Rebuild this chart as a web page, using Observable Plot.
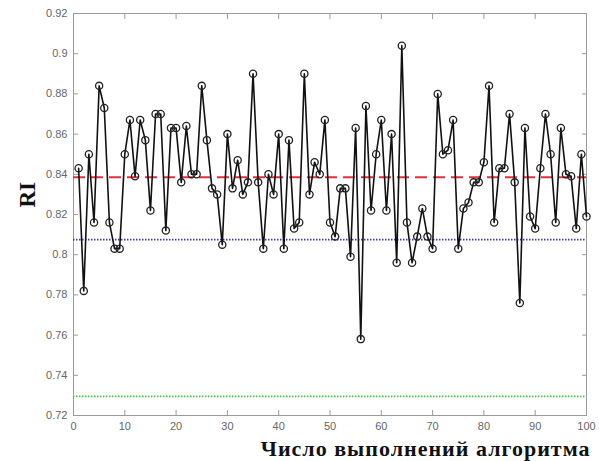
<!DOCTYPE html>
<html>
<head>
<meta charset="utf-8">
<script src="https://cdn.jsdelivr.net/npm/d3@7"></script>
<script src="https://cdn.jsdelivr.net/npm/@observablehq/plot@0.6"></script>
<style>
  html, body { margin: 0; padding: 0; background: #fff; }
  #chart svg { display: block; }
</style>
</head>
<body>
<div id="chart"></div>
<script>
// RI values for runs 1..100
const riValues = [
  0.843, 0.782, 0.850, 0.816, 0.884, 0.873, 0.816, 0.803, 0.803, 0.850,
  0.867, 0.839, 0.867, 0.857, 0.822, 0.870, 0.870, 0.812, 0.863, 0.863,
  0.836, 0.864, 0.840, 0.840, 0.884, 0.857, 0.833, 0.830, 0.805, 0.860,
  0.833, 0.847, 0.830, 0.836, 0.890, 0.836, 0.803, 0.840, 0.830, 0.860,
  0.803, 0.857, 0.813, 0.816, 0.890, 0.830, 0.846, 0.840, 0.867, 0.816,
  0.809, 0.833, 0.833, 0.799, 0.863, 0.758, 0.874, 0.822, 0.850, 0.867,
  0.822, 0.860, 0.796, 0.904, 0.816, 0.796, 0.809, 0.823, 0.809, 0.803,
  0.880, 0.850, 0.852, 0.867, 0.803, 0.823, 0.826, 0.836, 0.836, 0.846,
  0.884, 0.816, 0.843, 0.843, 0.870, 0.836, 0.776, 0.863, 0.819, 0.813,
  0.843, 0.870, 0.850, 0.816, 0.863, 0.840, 0.839, 0.813, 0.850, 0.819
];
// horizontal reference levels
const redLevel = [0.8385];
const blueLevel = [0.8075];
const greenLevel = [0.7295];

const xTicks = [0, 10, 20, 30, 40, 50, 60, 70, 80, 90, 100];
const yTicks = [0.72, 0.74, 0.76, 0.78, 0.80, 0.82, 0.84, 0.86, 0.88, 0.90, 0.92];
const xLabel = "Число выполнений алгоритма";
const yLabel = "RI";

const data = riValues.map((v, i) => ({run: i + 1, ri: v}));
const fmtY = d => String(+d.toFixed(2));
const tickFont = "Liberation Sans, Arial, sans-serif";
const serif = "Liberation Serif, Times New Roman, serif";

const chart = Plot.plot({
  width: 599,
  height: 461,
  marginLeft: 73,
  marginRight: 13,
  marginTop: 13,
  marginBottom: 46,
  style: {fontFamily: tickFont, fontSize: "11px", background: "#fff"},
  x: {domain: [0, 100], ticks: xTicks},
  y: {domain: [0.72, 0.92], ticks: yTicks},
  marks: [
    Plot.frame({stroke: "#9a9a9a", strokeWidth: 1}),
    Plot.axisY({ticks: yTicks, tickFormat: fmtY, tickSize: -5, tickPadding: 11, stroke: "#9a9a9a", fill: "#666", label: null}),
    Plot.axisY({ticks: yTicks, anchor: "right", tickFormat: () => "", tickSize: -5, stroke: "#9a9a9a", label: null}),
    Plot.axisX({ticks: xTicks, tickSize: -5, tickPadding: 12, stroke: "#9a9a9a", fill: "#666", label: null}),
    Plot.axisX({ticks: xTicks, anchor: "top", tickFormat: () => "", tickSize: -5, stroke: "#9a9a9a", label: null}),
    Plot.ruleY(greenLevel, {stroke: "#3cc83c", strokeWidth: 1.6, strokeDasharray: "1.5,1.5"}),
    Plot.ruleY(blueLevel, {stroke: "#3a3aa8", strokeWidth: 1.8, strokeDasharray: "1.5,1.5"}),
    Plot.ruleY(redLevel, {stroke: "#e0303e", strokeWidth: 2, strokeDasharray: "12,6"}),
    Plot.line(data, {x: "run", y: "ri", stroke: "#111", strokeWidth: 1.6}),
    Plot.dot(data, {x: "run", y: "ri", r: 3.6, stroke: "#222", strokeWidth: 1.3, fill: "none"}),
    Plot.text([yLabel], {frameAnchor: "left", dx: -46, dy: -7, rotate: -90, fontFamily: serif, fontWeight: "bold", fontSize: 23, fill: "#111"}),
    Plot.text([xLabel], {frameAnchor: "bottom-right", textAnchor: "end", lineAnchor: "middle", dx: 4, dy: 33, fontFamily: serif, fontWeight: "bold", fontSize: 22, fill: "#111"})
  ]
});
d3.select(chart).selectAll("text")
  .filter(function() { return this.textContent === xLabel; })
  .attr("letter-spacing", "1px");
document.getElementById("chart").appendChild(chart);
</script>
</body>
</html>
